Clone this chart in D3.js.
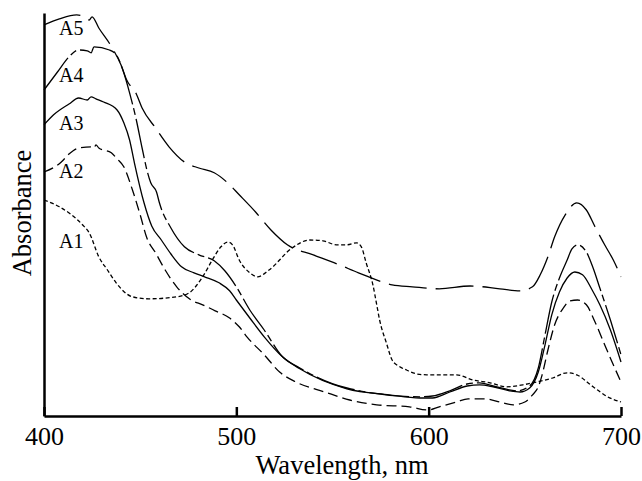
<!DOCTYPE html>
<html>
<head>
<meta charset="utf-8">
<script src="https://cdn.jsdelivr.net/npm/d3@7"></script>
<style>
  body { margin: 0; background: #fff; }
  svg { display: block; }
  .axis path, .axis line { stroke: #000; stroke-width: 2.5px; fill: none; }
  .axis text { font-family: "Liberation Serif", "Times New Roman", serif; font-size: 26px; fill: #000; }
  .axislabel { font-family: "Liberation Serif", "Times New Roman", serif; font-size: 26.5px; fill: #000; }
  .curvelabel { font-family: "Liberation Serif", "Times New Roman", serif; font-size: 20px; fill: #000; }
  .spectrum { fill: none; stroke: #000; stroke-width: 1.3px; }
</style>
</head>
<body>
<svg id="chart" width="642" height="481"></svg>
<script>
// wavelength (nm), absorbance (arb. units)
const A1 = [[400,0.540],[408,0.523],[420,0.478],[423.5,0.458],[428.5,0.398],[433,0.365],[437.5,0.333],
  [446,0.298],[454.5,0.293],[469,0.298],[475.5,0.308],[482.5,0.348],[487.5,0.390],[492,0.423],[495.5,0.435],
  [498,0.428],[501.5,0.390],[507,0.358],[511,0.348],[517,0.365],[529,0.420],[538,0.440],[545,0.438],
  [552,0.428],[557.5,0.428],[562.5,0.433],[565,0.423],[567.5,0.383],[571,0.328],[573,0.278],[574.5,0.240],
  [578,0.183],[581,0.140],[585,0.123],[588.5,0.115],[594,0.105],[599,0.103],[614.5,0.103],[623,0.090],
  [632,0.083],[640.5,0.073],[649,0.078],[656,0.085],[664.5,0.095],[672,0.108],[677,0.103],[685.5,0.073],
  [693,0.048],[700,0.035]];

const A2 = [[400,0.610],[409,0.635],[413,0.655],[418,0.670],[424.5,0.673],[426,0.670],[427,0.678],
  [428.5,0.670],[435,0.658],[438,0.643],[441.5,0.623],[446,0.565],[450,0.503],[453.5,0.445],[458,0.408],
  [463,0.365],[469,0.323],[476.5,0.290],[482.5,0.278],[489,0.263],[496.5,0.245],[501.5,0.223],[505.5,0.198],
  [514.5,0.153],[522.5,0.110],[531,0.085],[546,0.060],[559,0.040],[573,0.028],[590,0.023],[599.5,0.015],
  [605.5,0.023],[614.5,0.035],[620.5,0.043],[629,0.043],[638.5,0.033],[644,0.028],[650,0.035],[654,0.053],
  [657,0.073],[659,0.103],[662,0.165],[665.5,0.228],[670,0.270],[673.5,0.288],[677.5,0.290],[682,0.278],
  [686.5,0.235],[691.5,0.178],[696,0.128],[700,0.085]];

const A3 = [[400,0.728],[405,0.753],[413,0.780],[418,0.795],[422.5,0.790],[424.5,0.798],[427,0.793],
  [431,0.785],[438,0.765],[441.5,0.733],[444.5,0.690],[447,0.633],[452,0.533],[456,0.475],[461,0.440],
  [466,0.405],[471.5,0.373],[478,0.358],[483.5,0.348],[491,0.333],[496.5,0.313],[500,0.290],[507,0.245],
  [514.5,0.198],[524,0.148],[533,0.118],[557.5,0.068],[579.5,0.053],[595.5,0.045],[602,0.045],[611,0.060],
  [620,0.075],[626.5,0.078],[633.5,0.073],[642,0.063],[647.5,0.060],[652.5,0.070],[657,0.110],[660.5,0.178],
  [664,0.253],[668,0.310],[672,0.345],[676,0.360],[680,0.353],[685,0.315],[689,0.278],[694.5,0.215],
  [700,0.135]];

const A4 = [[400,0.815],[407,0.860],[413,0.898],[418,0.915],[422.5,0.913],[424.5,0.908],[426,0.923],
  [434,0.915],[438,0.900],[441,0.865],[444.5,0.808],[448,0.740],[451,0.670],[453.5,0.615],[455.5,0.583],
  [458.5,0.560],[460,0.533],[466,0.470],[473,0.423],[480.5,0.403],[488.5,0.388],[494,0.363],[500,0.323],
  [507,0.265],[514.5,0.215],[524,0.148],[533,0.120],[557.5,0.070],[595.5,0.048],[602,0.050],[611,0.063],
  [620,0.080],[626.5,0.083],[633.5,0.075],[646,0.063],[652.5,0.075],[657,0.120],[660.5,0.203],[664,0.285],
  [668,0.345],[672,0.390],[674.5,0.418],[677.5,0.428],[682,0.410],[685.5,0.370],[689,0.320],[694.5,0.240],
  [700,0.153]];

const A5 = [[400,0.978],[408,0.993],[417,1.003],[421,0.998],[423.5,0.990],[425,0.998],[428.5,0.970],
  [435.5,0.920],[440,0.878],[443,0.840],[448,0.805],[451,0.770],[458,0.720],[465,0.673],[473,0.635],
  [480.5,0.620],[488.5,0.608],[495,0.585],[501.5,0.553],[510,0.510],[518,0.465],[526.5,0.428],[540,0.403],
  [553.5,0.378],[563.5,0.358],[581,0.328],[591.5,0.323],[605.5,0.318],[621.5,0.325],[637,0.318],
  [647.5,0.313],[654,0.323],[658,0.353],[662,0.398],[665.5,0.448],[671,0.503],[677,0.533],[682,0.515],
  [686.5,0.473],[691.5,0.428],[696,0.390],[700,0.348]];

const curveNames = ["A1", "A2", "A3", "A4", "A5"];
const xTicks = [400, 500, 600, 700];

let svg = d3.select("#chart");
let xScale = d3.scaleLinear().domain([400, 700]).range([44, 621]);
let yScale = d3.scaleLinear().domain([0, 1.0075]).range([416, 13]);

let series = [
  {name: "A1", values: A1, dash: "4,2.5", label: 248},
  {name: "A2", values: A2, dash: "10,5", label: 178},
  {name: "A3", values: A3, dash: null, label: 130},
  {name: "A4", values: A4, dash: "40,4,7,4", label: 82},
  {name: "A5", values: A5, dash: "38,9", label: 35}
];

let line = d3.line()
  .x(d => xScale(d[0]))
  .y(d => yScale(d[1]))
  .curve(d3.curveMonotoneX);

svg.selectAll("path.spectrum").data(series).join("path")
  .attr("class", "spectrum")
  .attr("d", d => line(d.values))
  .attr("stroke-dasharray", d => d.dash);

// curve labels
svg.selectAll("text.curvelabel").data(series).join("text")
  .attr("class", "curvelabel")
  .attr("x", 59).attr("y", d => d.label)
  .text((d, i) => curveNames[i]);

// axes
let xAxis = d3.axisBottom(xScale).tickValues(xTicks).tickFormat(d => d)
  .tickSizeInner(-9).tickSizeOuter(0);
let gx = svg.append("g").attr("class", "axis").attr("transform", "translate(0,416)").call(xAxis);
gx.selectAll("text").attr("y", 29).attr("dy", 0);

let yAxis = d3.axisLeft(yScale).tickValues([]).tickSizeOuter(0);
svg.append("g").attr("class", "axis").attr("transform", "translate(44,0)").call(yAxis);

svg.append("text").attr("class", "axislabel")
  .attr("x", 342).attr("y", 474).attr("text-anchor", "middle")
  .text("Wavelength, nm");
svg.append("text").attr("class", "axislabel")
  .attr("transform", "translate(31,213) rotate(-90)")
  .attr("text-anchor", "middle")
  .text("Absorbance");
</script>
</body>
</html>
